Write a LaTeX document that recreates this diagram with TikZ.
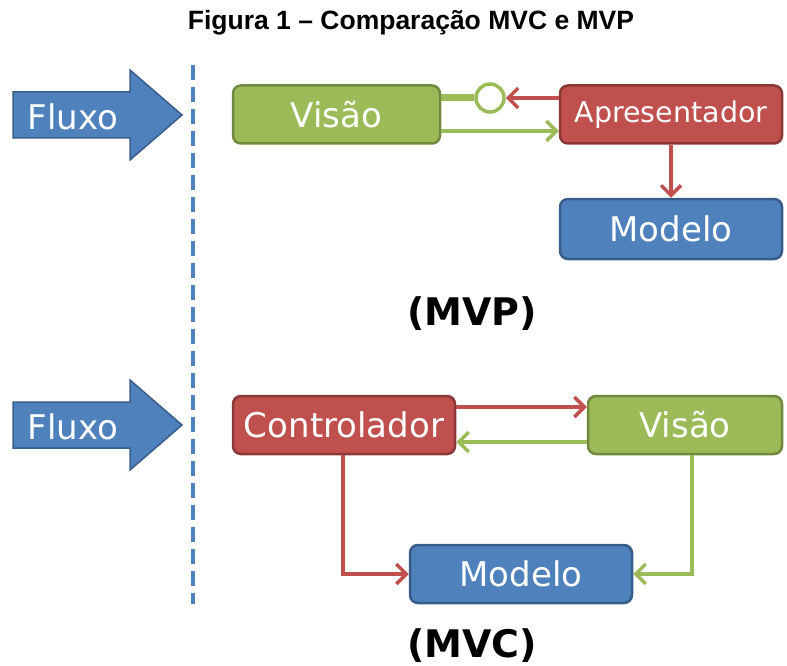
\documentclass[tikz,border=0pt]{standalone}
\usepackage{fontspec}
\setmainfont{DejaVu Sans}
\newfontfamily\titlefont{Liberation Sans}
\usetikzlibrary{arrows.meta}
\definecolor{grn}{HTML}{9BBB59}
\definecolor{grnd}{HTML}{71893F}
\definecolor{rd}{HTML}{C0504D}
\definecolor{rdd}{HTML}{8C3836}
\definecolor{bl}{HTML}{4F81BD}
\definecolor{bld}{HTML}{385D8A}
\tikzset{
  boxbase/.style={rounded corners=8pt, line width=2.5pt, text=white, inner sep=0pt, font=\fontsize{34}{36}\selectfont},
  gbox/.style={boxbase, fill=grn, draw=grnd},
  rbox/.style={boxbase, fill=rd, draw=rdd},
  bbox/.style={boxbase, fill=bl, draw=bld},
  rline/.style={draw=rd, line width=3.5pt, -{Straight Barb[length=10pt,width=20pt,line width=3.5pt]}},
  gline/.style={draw=grn, line width=3.5pt, -{Straight Barb[length=10pt,width=20pt,line width=3.5pt]}},
  flx/.style={fill=bl, draw=bld, line width=1.5pt, line join=miter},
  flxtext/.style={text=white, font=\fontsize{34}{36}\selectfont},
  bigtxt/.style={font=\bfseries\fontsize{38}{40}\selectfont},
}
\begin{document}
\begin{tikzpicture}[x=1pt,y=-1pt]
\useasboundingbox (0,0) rectangle (787,666);
% title
\node[font=\titlefont\bfseries\fontsize{26.5}{28}\selectfont] (title) at (411,23) {Figura 1 – Comparação MVC e MVP};
% dashed line
\coordinate (dtop) at (193,65);
\coordinate (dbot) at (193,604);
\draw[bl, line width=4.5pt, dash pattern=on 15pt off 7pt] (dtop) -- (dbot);
% Fluxo arrows
\draw[flx] (13,92) -- (130,92) -- (130,70) -- (182,115) -- (130,160) -- (130,138) -- (13,138) -- cycle;
\node[flxtext] (fluxo1) at (73,117) {Fluxo};
\draw[flx] (13,402) -- (130,402) -- (130,380) -- (182,425) -- (130,470) -- (130,448) -- (13,448) -- cycle;
\node[flxtext] (fluxo2) at (73,427) {Fluxo};
% MVP
\node[gbox, minimum width=207pt, minimum height=58pt] (visao1) at (336.5,114.5) {Visão};
\node[rbox, minimum width=222pt, minimum height=58pt, font=\fontsize{28.5}{30}\selectfont] (apres) at (671,114.5) {Apresentador};
\node[bbox, minimum width=222pt, minimum height=60pt] (modelo1) at (671,229) {Modelo};
\node[circle, draw=grn, fill=white, line width=3.5pt, minimum size=28pt, inner sep=0pt] (circ) at (490,98) {};
\draw[grn, line width=7pt] (visao1.east |- circ) -- (circ.west);
\draw[rline] (apres.west |- circ) -- (circ.east);
\draw[gline] (visao1.east |- 0,131) -- (apres.west |- 0,131);
\draw[rline] (apres.south) -- (modelo1.north);
\node[bigtxt] (mvp) at (472,314) {(MVP)};
% MVC
\node[rbox, minimum width=222pt, minimum height=58pt] (contr) at (344,425) {Controlador};
\node[gbox, minimum width=194pt, minimum height=58pt] (visao2) at (685,425) {Visão};
\node[bbox, minimum width=222pt, minimum height=58pt] (modelo2) at (521,574) {Modelo};
\draw[rline] (contr.east |- 0,407) -- (visao2.west |- 0,407);
\draw[gline] (visao2.west |- 0,442) -- (contr.east |- 0,442);
\draw[rline] (contr.south -| 343,0) |- (modelo2.west);
\draw[gline] (visao2.south -| 692,0) |- (modelo2.east);
\node[bigtxt] (mvc) at (472,646) {(MVC)};
\end{tikzpicture}
\end{document}
